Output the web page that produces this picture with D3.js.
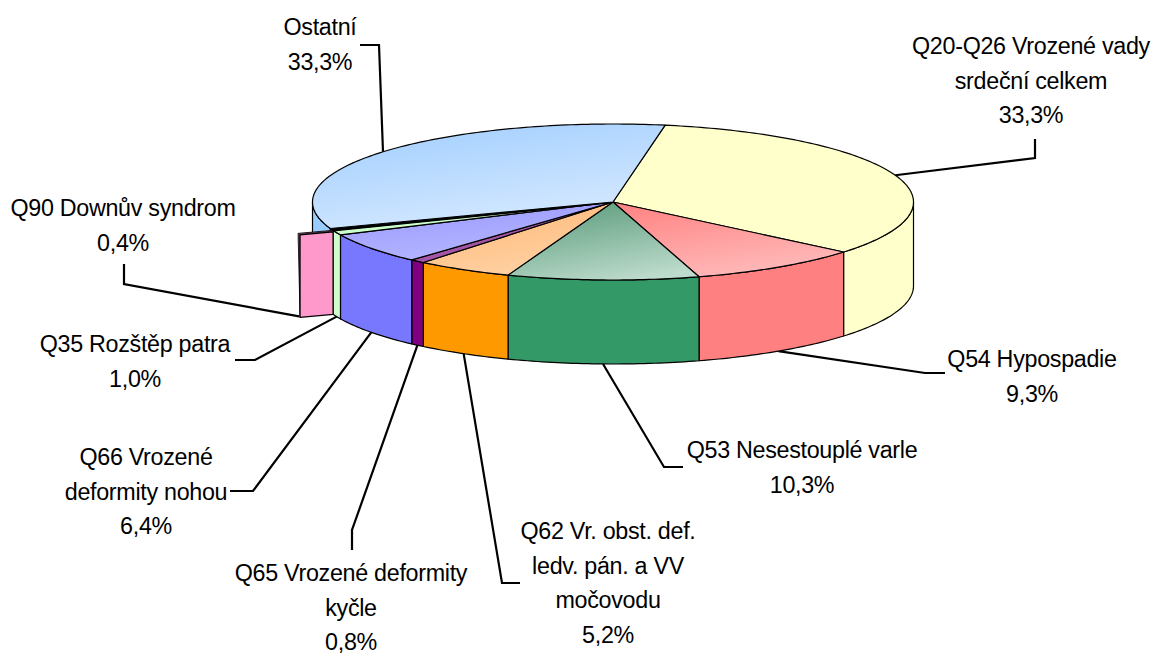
<!DOCTYPE html>
<html><head><meta charset="utf-8">
<script src="https://cdn.jsdelivr.net/npm/d3@7/dist/d3.min.js"></script>
<style>html,body{margin:0;padding:0;background:#fff}svg{display:block}text{font-family:"Liberation Sans",Arial,sans-serif;font-size:23.3px;letter-spacing:-0.3px;fill:#000}</style>
</head><body><svg id="c" width="1158" height="655"></svg>
<script>
const categories=["Q20-Q26 Vrozené vady srdeční celkem","Q54 Hypospadie","Q53 Nesestouplé varle","Q62 Vr. obst. def. ledv. pán. a VV močovodu","Q65 Vrozené deformity kyčle","Q66 Vrozené deformity nohou","Q35 Rozštěp patra","Q90 Downův syndrom","Ostatní"];
const values=[33.3,9.3,10.3,5.2,0.8,6.4,1.0,0.4,33.3];
const valueLabels=["33,3%","9,3%","10,3%","5,2%","0,8%","6,4%","1,0%","0,4%","33,3%"];
const labelLines=[["Q20-Q26 Vrozené vady","srdeční celkem"],["Q54 Hypospadie"],["Q53 Nesestouplé varle"],["Q62 Vr. obst. def.","ledv. pán. a VV","močovodu"],["Q65 Vrozené deformity","kyčle"],["Q66 Vrozené","deformity nohou"],["Q35 Rozštěp patra"],["Q90 Downův syndrom"],["Ostatní"]];
const wallColors=["#ffffcc","#ff8080","#339966","#ff9900","#800080","#7878ff","#ccffcc","#ff99cc","#99ccff"];
const topFrom=["#ffffcc","#ff8686","#5c9c7c","#ffb877","#a050a0","#9a9aff","#ccffcc","#ff99cc","#a4d0ff"];
const topTo=["#ffffcc","#ffbcbc","#bedccd","#ffd3a6","#a858a8","#b8b8ff","#ccffcc","#ff99cc","#d8eaff"];

// layout
const cx=613,cy=202,rx=300.5,ry=78,depth=84;
const startDeg=10;
const burst={dx:-35,dy:3,side:2};
const rad=d=>d*Math.PI/180;
const px=d3.scaleLinear().domain([-1,1]).range([cx-rx,cx+rx]);
const py=d3.scaleLinear().domain([-1,1]).range([cy-ry,cy+ry]);
const P=(a,z=0)=>[px(Math.sin(a)),py(-Math.cos(a))+z];
const line=d3.line();
const arcPts=(a0,a1,z=0)=>{const n=Math.max(2,Math.ceil((a1-a0)/rad(1)));return d3.range(n+1).map(i=>P(a0+(a1-a0)*i/n,z));};

const pie=d3.pie().sort(null).startAngle(rad(startDeg)).endAngle(rad(startDeg+3.6*d3.sum(values)));
const arcs=pie(values);
const svg=d3.select("#c");
const defs=svg.append("defs");
arcs.forEach((a,i)=>{
  const g=defs.append("linearGradient").attr("id","g"+i).attr("x1",0.25).attr("y1",0).attr("x2",0.7).attr("y2",1);
  g.append("stop").attr("offset",0).attr("stop-color",topFrom[i]);
  g.append("stop").attr("offset",1).attr("stop-color",topTo[i]);
});
const style=(s,w=1.2)=>s.attr("stroke","#000").attr("stroke-width",w).attr("stroke-linejoin","round");

// leader lines layout (label side points)
const elbows=[[[1035,158],[1035,139]],[[925,373],[945,373]],[[664,467],[683,467]],[[502,583],[520,583]],[[352,530],[352,550]],[[253,491],[230,491]],[[255,360],[235,360]],null,[[379,45],[360,45]]];
const labelPos=[[1031,54],[1032,367],[802,458],[608,539],[351,581],[146,465],[135,352],[123,216],[320,35]];
const lineGap=34.5;

const gL=svg.append("g").attr("fill","none").attr("stroke","#000").attr("stroke-width",2.2);
arcs.forEach((a,i)=>{
  if(!elbows[i])return;
  const m=(a.startAngle+a.endAngle)/2;
  const start=P(m,Math.cos(m)<0?depth:0);
  gL.append("path").attr("d",line([start,...elbows[i]]));
});

// walls (front half only)
const front=[];
arcs.forEach((a,i)=>{
  const s=Math.max(a.startAngle,rad(90)),e=Math.min(a.endAngle,rad(270));
  if(s<e&&i!==7)front.push({i,s,e});
});
front.sort((a,b)=>a.s-b.s);
const gW=svg.append("g");
front.forEach(f=>{
  const top=arcPts(f.s,f.e),bot=arcPts(f.s,f.e,depth).reverse();
  style(gW.append("path").attr("d",line([...top,...bot])+"Z").attr("fill",wallColors[f.i]));
});
// tops
const gT=svg.append("g");
arcs.forEach((a,i)=>{
  style(gT.append("path").attr("d",line([[cx,cy],...arcPts(a.startAngle,a.endAngle)])+"Z").attr("fill",`url(#g${i})`),i===7?2.2:1.2);
});
// exploded Q90 slice wall
const a7=arcs[7];
const tr=P(a7.startAngle),br=P(a7.startAngle,depth);
const tl=[tr[0]+burst.dx,tr[1]+burst.dy],bl=[tl[0]+burst.side,br[1]+burst.dy];
const inner=[tl[0]+burst.side,tl[1]+1.5];
style(svg.append("path").attr("d",line([tl,tr,[tr[0],tr[1]+1.5],inner,bl])+"Z").attr("fill","#7a4d66"),0.8);
style(svg.append("path").attr("d",line([inner,[tr[0],tr[1]+1.5],br,bl])+"Z").attr("fill",wallColors[7]));
svg.append("path").attr("fill","none").attr("stroke","#000").attr("stroke-width",2.2)
  .attr("d",line([[bl[0]-1,bl[1]-1],[124,284],[124,264]]));

// labels
const gX=svg.append("g").attr("text-anchor","middle");
categories.forEach((c,i)=>{
  const lines=[...labelLines[i],valueLabels[i]];
  const t=gX.append("text").attr("x",labelPos[i][0]).attr("y",labelPos[i][1]);
  lines.forEach((l,j)=>t.append("tspan").attr("x",labelPos[i][0]).attr("dy",j?lineGap:0).text(l));
});
</script></body></html>
